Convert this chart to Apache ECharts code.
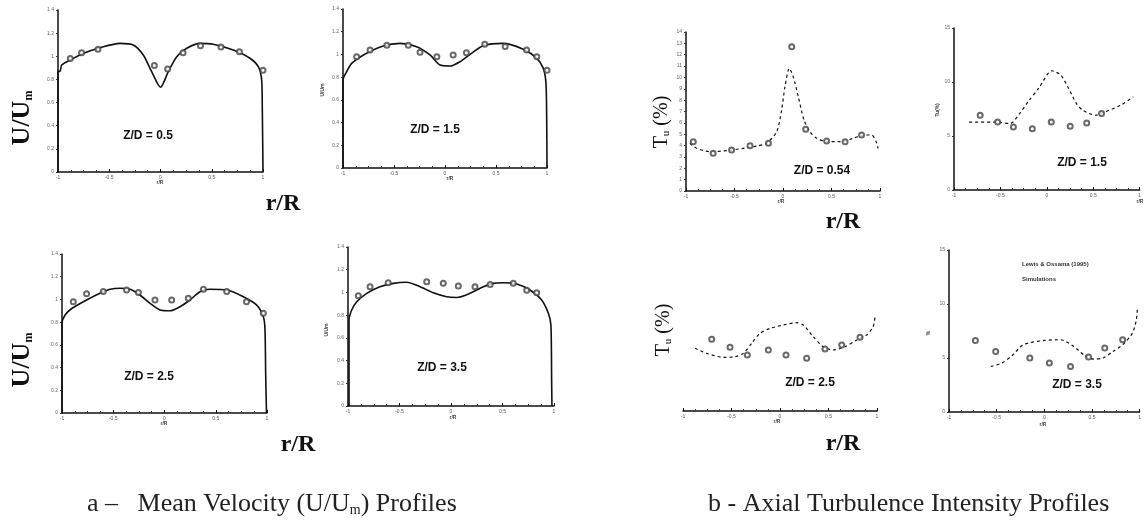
<!DOCTYPE html>
<html>
<head>
<meta charset="utf-8">
<script src="https://cdn.jsdelivr.net/npm/echarts@6/dist/echarts.min.js"></script>
<style>html,body{margin:0;padding:0;background:#fff;}#c{width:1144px;height:522px;}</style>
</head>
<body>
<div id="c"></div>
<script>
// ---- data (r/R, value) ----
const simA1 = [[-1,0],[-1,0.87],[-0.98,0.87],[-0.964,0.925],[-0.88,0.968],[-0.75,1.026],[-0.59,1.074],[-0.395,1.112],[-0.265,1.098],[-0.168,1.011],[-0.086,0.867],[0,0.732],[0.076,0.867],[0.158,0.997],[0.256,1.069],[0.385,1.112],[0.515,1.104],[0.71,1.054],[0.873,0.983],[0.954,0.91],[0.987,0.795],[0.993,0.564],[1,0]];
const expA1 = [[-0.88,0.98],[-0.77,1.03],[-0.61,1.06],[-0.06,0.92],[0.07,0.89],[0.22,1.03],[0.39,1.09],[0.59,1.08],[0.77,1.04],[1.0,0.88]];
const simA2 = [[-1,0],[-1,0.775],[-0.964,0.848],[-0.915,0.921],[-0.8,0.995],[-0.605,1.074],[-0.44,1.097],[-0.278,1.068],[-0.147,0.995],[-0.049,0.906],[0.049,0.898],[0.147,0.936],[0.26,1.01],[0.375,1.077],[0.57,1.097],[0.767,1.045],[0.9,0.965],[0.964,0.877],[0.99,0.745],[0.997,0.42],[1,0]];
const expA2 = [[-0.866,0.98],[-0.735,1.04],[-0.57,1.08],[-0.36,1.08],[-0.245,1.02],[-0.08,0.98],[0.08,0.995],[0.21,1.015],[0.39,1.09],[0.59,1.07],[0.8,1.04],[0.9,0.98],[1,0.86]];
const simA3 = [[-1,0],[-1,0.79],[-0.97,0.863],[-0.905,0.92],[-0.76,0.995],[-0.63,1.054],[-0.53,1.089],[-0.434,1.098],[-0.337,1.089],[-0.24,1.039],[-0.14,0.965],[-0.044,0.907],[0.054,0.9],[0.151,0.936],[0.249,0.995],[0.346,1.068],[0.444,1.089],[0.607,1.083],[0.769,1.024],[0.9,0.95],[0.964,0.848],[0.98,0.745],[0.987,0.35],[0.995,0]];
const expA3 = [[-0.89,0.98],[-0.76,1.05],[-0.597,1.07],[-0.37,1.083],[-0.255,1.06],[-0.093,0.995],[0.07,0.995],[0.232,1.01],[0.38,1.09],[0.607,1.07],[0.8,0.98],[0.964,0.878]];
const simA4 = [[-0.99,0],[-0.99,0.757],[-0.964,0.845],[-0.915,0.918],[-0.818,0.992],[-0.69,1.05],[-0.56,1.08],[-0.43,1.089],[-0.3,1.05],[-0.172,0.997],[-0.042,0.962],[0.055,0.956],[0.184,0.992],[0.314,1.05],[0.41,1.08],[0.508,1.085],[0.638,1.074],[0.767,1.021],[0.88,0.933],[0.945,0.816],[0.97,0.713],[0.977,0.23],[0.98,0]];
const expA4 = [[-0.9,0.97],[-0.786,1.05],[-0.61,1.085],[-0.236,1.095],[-0.075,1.08],[0.071,1.056],[0.233,1.05],[0.38,1.07],[0.605,1.08],[0.735,1.02],[0.832,0.997]];

const simB1 = [[-0.96,4.2],[-0.89,3.76],[-0.75,3.46],[-0.58,3.55],[-0.41,3.76],[-0.27,3.96],[-0.17,4.2],[-0.065,5.22],[-0.014,7.13],[0.02,9.18],[0.065,10.8],[0.106,10.06],[0.158,8.3],[0.216,6.25],[0.278,5.22],[0.347,4.64],[0.45,4.34],[0.588,4.34],[0.725,4.64],[0.828,4.93],[0.914,4.93],[0.96,4.34],[0.98,3.76]];
const expB1 = [[-0.925,4.34],[-0.72,3.32],[-0.53,3.6],[-0.34,3.99],[-0.15,4.2],[0.09,12.7],[0.234,5.43],[0.45,4.4],[0.64,4.34],[0.81,4.93]];
const simB2 = [[-0.837,6.29],[-0.564,6.29],[-0.395,6.15],[-0.293,7.08],[-0.19,8.31],[-0.089,9.4],[0.054,11.04],[0.15,10.64],[0.235,9.4],[0.32,8.0],[0.388,7.38],[0.524,6.92],[0.626,7.23],[0.796,7.85],[0.932,8.62]];
const expB2 = [[-0.718,6.92],[-0.53,6.29],[-0.36,5.83],[-0.156,5.68],[0.048,6.29],[0.252,5.9],[0.43,6.2],[0.59,7.08]];
const simB3 = [[-0.876,6.15],[-0.756,5.65],[-0.585,5.26],[-0.464,5.32],[-0.378,5.65],[-0.292,6.64],[-0.206,7.61],[-0.103,8.1],[0.034,8.43],[0.172,8.66],[0.24,8.43],[0.343,7.28],[0.446,6.3],[0.55,5.98],[0.67,6.3],[0.79,6.96],[0.894,7.45],[0.96,8.26],[0.98,9.24]];
const expB3 = [[-0.704,7.03],[-0.515,6.24],[-0.337,5.49],[-0.12,5.98],[0.062,5.49],[0.275,5.17],[0.464,6.08],[0.636,6.47],[0.825,7.22]];
const simB4 = [[-0.562,4.22],[-0.443,4.54],[-0.34,5.21],[-0.22,6.23],[0.002,6.63],[0.172,6.69],[0.31,6.07],[0.412,5.3],[0.515,4.9],[0.617,5.0],[0.72,5.61],[0.822,6.23],[0.925,7.31],[0.966,8.55],[0.977,9.63]];
const expB4 = [[-0.723,6.63],[-0.51,5.61],[-0.152,5.0],[0.053,4.54],[0.275,4.22],[0.464,5.09],[0.634,5.93],[0.822,6.69]];

const zdLabels = ['Z/D = 0.5','Z/D = 1.5','Z/D = 2.5','Z/D = 3.5','Z/D = 0.54','Z/D = 1.5','Z/D = 2.5','Z/D = 3.5'];
const captionA = 'a \u2013   Mean Velocity (U/U';
const captionB = 'b - Axial Turbulence Intensity Profiles';

// ---- layout ----
const SERIF = "'Liberation Serif','DejaVu Serif',serif";
const SANS = "'Liberation Sans','DejaVu Sans',sans-serif";
const panels = [
  {g:{left:58,top:10,width:205,height:162}, y:[0,1.4,0.2], sim:simA1, exp:expA1, dash:false, yline:true},
  {g:{left:343,top:9,width:204,height:159}, y:[0,1.4,0.2], sim:simA2, exp:expA2, dash:false, yline:true},
  {g:{left:62,top:254,width:205,height:159}, y:[0,1.4,0.2], sim:simA3, exp:expA3, dash:false, yline:true},
  {g:{left:348,top:247,width:206,height:159}, y:[0,1.4,0.2], sim:simA4, exp:expA4, dash:false, yline:true},
  {g:{left:686,top:32,width:194,height:159}, y:[0,14,1], sim:simB1, exp:expB1, dash:true, yline:true},
  {g:{left:954,top:28,width:196,height:162}, y:[0,15,5], sim:simB2, exp:expB2, dash:true, yline:true},
  {g:{left:683,top:258,width:194,height:153}, y:[0,15,5], sim:simB3, exp:expB3, dash:true, yline:false},
  {g:{left:949,top:250,width:195,height:162}, y:[0,15,5], sim:simB4, exp:expB4, dash:true, yline:true}
];
const zdPos = [[148,136],[435,130],[149,377],[442,368],[822,171],[1082,163],[810,383],[1077,385]];

const grid=[], xAxis=[], yAxis=[], series=[];
panels.forEach((p,i)=>{
  grid.push(Object.assign({containLabel:false}, p.g));
  xAxis.push({type:'value', gridIndex:i, min:-1, max:1, interval:0.5,
    axisLine:{show:true, onZero:false, lineStyle:{color:'#111', width:1.5}},
    axisTick:{show:true, inside:true, length:3, lineStyle:{color:'#111'}},
    minorTick:{show:true, splitNumber:4, length:2, lineStyle:{color:'#333'}},
    axisLabel:{show:true, fontSize:5, color:'#555', margin:3},
    splitLine:{show:false}});
  yAxis.push({type:'value', gridIndex:i, min:p.y[0], max:p.y[1], interval:p.y[2],
    axisLine:{show:p.yline, onZero:false, lineStyle:{color:'#111', width:1.5}},
    axisTick:{show:p.yline, inside:false, length:2, lineStyle:{color:'#333'}},
    axisLabel:{show:p.yline, fontSize:5, color:'#666', margin:4},
    splitLine:{show:false}});
  series.push({type:'line', xAxisIndex:i, yAxisIndex:i, data:p.sim, symbol:'none', smooth:0.25,
    lineStyle:{color:'#111', width:p.dash?1.2:1.6, type:p.dash?[3,3]:'solid'}, z:3});
  series.push({type:'scatter', xAxisIndex:i, yAxisIndex:i, data:p.exp, symbol:'emptyCircle', symbolSize:5,
    itemStyle:{color:'#444', borderColor:'#444', borderWidth:0.8}, z:4});
});

const graphic = [];
zdLabels.forEach((t,i)=>{
  graphic.push({type:'text', x:zdPos[i][0], y:zdPos[i][1], style:{text:t, fill:'#111', font:'bold 12px '+SANS, textAlign:'center', textVerticalAlign:'middle'}});
});
function big(x,y,txt,rot,size){
  graphic.push({type:'text', x:x, y:y, rotation:rot||0, style:{text:txt, fill:'#111', font:'bold '+(size||24)+'px '+SERIF, textAlign:'center', textVerticalAlign:'middle'}});
}
function uum(x,y){
  graphic.push({type:'text', x:x, y:y, rotation:Math.PI/2, style:{text:'{b|U/U}{s|m}', textAlign:'center', textVerticalAlign:'middle',
    rich:{b:{font:'bold 26px '+SERIF, fill:'#111'}, s:{font:'bold 12px '+SERIF, fill:'#111', verticalAlign:'bottom', padding:[10,0,0,0]}}}});
}
uum(22,118); uum(22,360);
big(283,204,'r/R'); big(298,445,'r/R'); big(843,222,'r/R'); big(843,444,'r/R');
function tu(x,y){
  graphic.push({type:'text', x:x, y:y, rotation:Math.PI/2, style:{text:'{b|T}{s|u}{b| (%)}', textAlign:'center', textVerticalAlign:'middle',
    rich:{b:{font:'20px '+SERIF, fill:'#111'}, s:{font:'11px '+SERIF, fill:'#111', verticalAlign:'bottom', padding:[8,0,0,0]}}}});
}
tu(662,122); tu(664,330);
function tiny(x,y,t,rot){
  graphic.push({type:'text', x:x, y:y, rotation:rot||0, style:{text:t, fill:'#444', font:'bold 5px '+SANS, textAlign:'center', textVerticalAlign:'middle'}});
}
tiny(323,90,'U/Um',Math.PI/2); tiny(327,330,'U/Um',Math.PI/2); tiny(938,110,'Tu(%)',Math.PI/2); tiny(929,333,'%',Math.PI/2);
tiny(160,183,'r/R'); tiny(450,179,'r/R'); tiny(164,424,'r/R'); tiny(453,418,'r/R'); tiny(781,202,'r/R'); tiny(1140,202,'r/R'); tiny(777,422,'r/R'); tiny(1043,425,'r/R');
graphic.push({type:'text', x:1022, y:264, style:{text:'Lewis & Ossama (1995)', fill:'#333', font:'bold 6px '+SANS, textVerticalAlign:'middle'}});
graphic.push({type:'text', x:1022, y:279, style:{text:'Simulations', fill:'#333', font:'bold 6px '+SANS, textVerticalAlign:'middle'}});
graphic.push({type:'text', x:87, y:504, style:{text:'{t|'+captionA+'}{s|m}{t|) Profiles}', textVerticalAlign:'middle',
  rich:{t:{font:'26px '+SERIF, fill:'#222'}, s:{font:'14px '+SERIF, fill:'#222', verticalAlign:'bottom', padding:[12,0,0,0]}}}});
graphic.push({type:'text', x:708, y:504, style:{text:captionB, fill:'#222', font:'26px '+SERIF, textVerticalAlign:'middle'}});

const chart = echarts.init(document.getElementById('c'), null, {renderer:'canvas'});
chart.setOption({animation:false, backgroundColor:'#fff', grid, xAxis, yAxis, series, graphic});
</script>
</body>
</html>
